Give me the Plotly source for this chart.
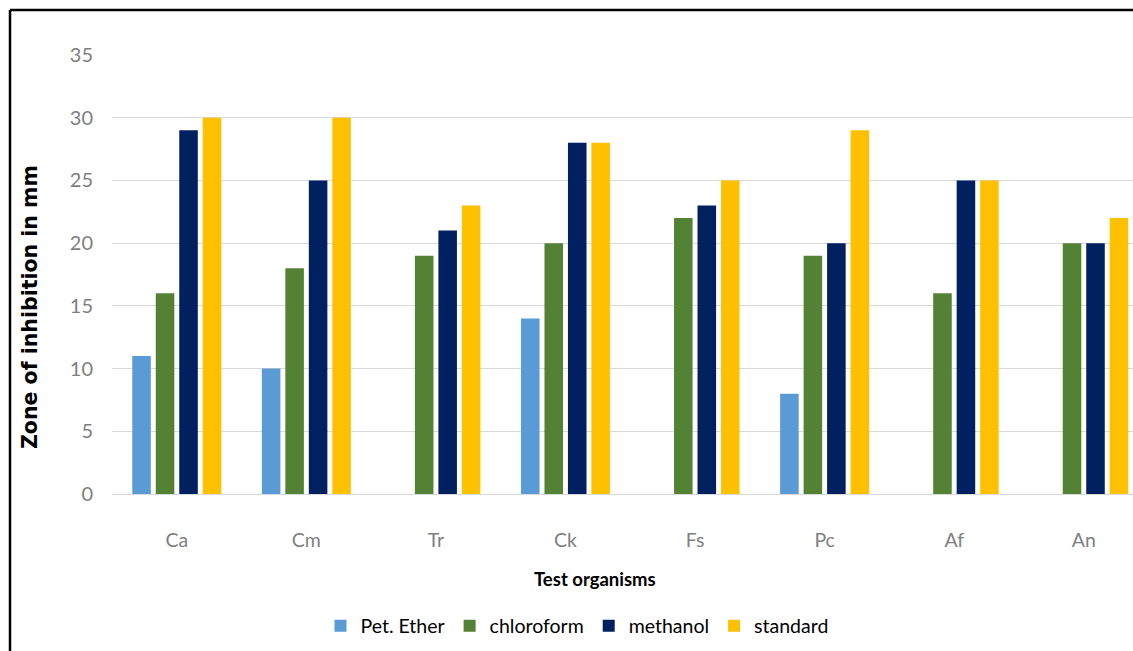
import plotly.graph_objects as go

categories = ["Ca", "Cm", "Tr", "Ck", "Fs", "Pc", "Af", "An"]
pet_ether = [11, 10, 0, 14, 0, 8, 0, 0]
chloroform = [16, 18, 19, 20, 22, 19, 16, 20]
methanol = [29, 25, 21, 28, 23, 20, 25, 20]
standard = [30, 30, 23, 28, 25, 29, 25, 22]

series = [
    ("Pet. Ether", pet_ether, "#5B9BD5"),
    ("chloroform", chloroform, "#548235"),
    ("methanol", methanol, "#002060"),
    ("standard", standard, "#FFC000"),
]

fig = go.Figure()
for name, vals, color in series:
    fig.add_trace(go.Bar(x=categories, y=vals, name=name, marker_color=color,
                         marker_line_width=0))

W, H = 1133, 651
L, R, T, B = 112, 0, 55, 157
pw = W - L - R
ph = H - T - B

def px_x(x):
    return (x - L) / pw

def px_y(y):
    return (H - B - y) / ph

fig.update_layout(
    width=W, height=H,
    margin=dict(l=L, r=R, t=T, b=B),
    paper_bgcolor="white", plot_bgcolor="white",
    barmode="group", bargap=0.275, bargroupgap=0.21,
    font=dict(family="Lato", color="#000000"),
    showlegend=True,
    legend=dict(orientation="h", x=px_x(577), xanchor="center",
                y=px_y(626), yanchor="middle",
                font=dict(size=19.5, color="#000000"),
                itemwidth=30, tracegroupgap=0),
    xaxis=dict(range=[-0.5, 7.38], showgrid=False, showline=True,
               linecolor="#D9D9D9", linewidth=1, ticks="",
               tickfont=dict(size=19.5, color="#7F7F7F"),
               ticklabelstandoff=29, fixedrange=True),
    yaxis=dict(range=[0, 35], dtick=5, showgrid=True, gridcolor="#D9D9D9",
               gridwidth=1, zeroline=False, showline=False, ticks="",
               tickfont=dict(size=20, color="#7F7F7F"),
               ticklabelstandoff=18, fixedrange=True),
    annotations=[
        dict(text="<b>Test organisms</b>", xref="paper", yref="paper",
             x=px_x(595), y=px_y(579), xanchor="center", yanchor="middle",
             showarrow=False, font=dict(size=18.5, color="#000000")),
        dict(text="<b>Zone of inhibition in mm</b>", xref="paper", yref="paper",
             x=px_x(30), y=px_y(307), xanchor="center", yanchor="middle",
             textangle=-90, showarrow=False,
             font=dict(family="DejaVu Sans", size=20.5, color="#000000")),
    ],
    shapes=[
        dict(type="line", xref="paper", yref="paper",
             x0=px_x(10), x1=px_x(1133), y0=px_y(10), y1=px_y(10),
             line=dict(color="black", width=2.5)),
        dict(type="line", xref="paper", yref="paper",
             x0=px_x(10), x1=px_x(10), y0=px_y(10), y1=px_y(651),
             line=dict(color="black", width=2.5)),
    ],
)

fig.write_html(
    "out.html",
    config={"displayModeBar": False},
    post_script="document.body.style.margin='0';document.body.style.overflow='hidden';",
)
